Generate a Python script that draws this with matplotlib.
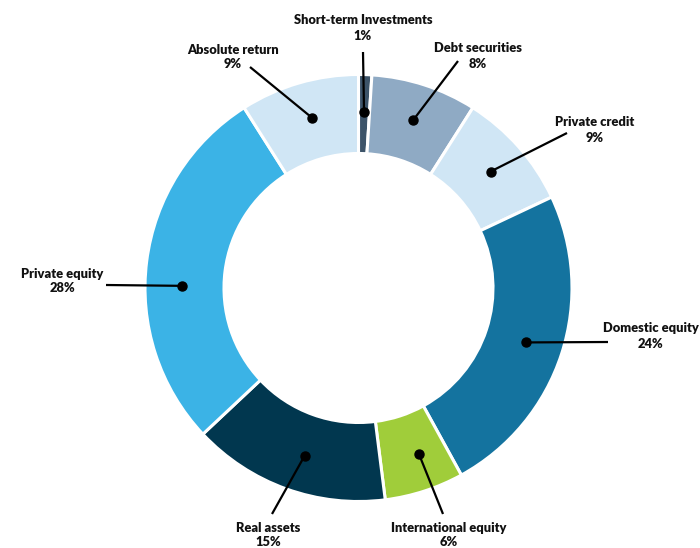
import numpy as np
import matplotlib.pyplot as plt

plt.rcParams['font.family'] = ['Lato', 'DejaVu Sans']

labels = ["Short-term Investments", "Debt securities", "Private credit",
          "Domestic equity", "International equity", "Real assets",
          "Private equity", "Absolute return"]
values = [1, 8, 9, 24, 6, 15, 28, 9]
colors = ["#3d5469", "#8faac4", "#d0e6f5", "#14739f", "#a0cd3a",
          "#01374f", "#3bb3e6", "#d0e6f5"]

# layout in pixels of the 700x548 picture: text centre, line end
cx, cy, scale = 358.5, 288.0, 213.5
text_px = [(363, 28), (478, 56), (595, 130), (651, 336),
           (449, 535), (268, 535), (62, 281), (233, 57)]
end_px = [(363, 52), (458, 61), (567, 133), (608, 342),
          (443, 514), (272, 514), (106, 285), (250, 67)]
dot_shift = [0, 0, 0, 0, 2, 2, 6.5, -1]   # degrees, nudges of the dots


def px(x, y):
    return ((x - cx) / scale, (cy - y) / scale)


fig = plt.figure(figsize=(7, 5.48), dpi=100)
ax = fig.add_axes([0, 0, 1, 1])

wedges, _ = ax.pie(values, colors=colors, startangle=90, counterclock=False,
                   radius=1.0,
                   wedgeprops=dict(width=0.37, edgecolor="white", linewidth=2.2))

for w, lab, v, tp, ep, sh in zip(wedges, labels, values, text_px, end_px, dot_shift):
    ang = np.deg2rad((w.theta1 + w.theta2) / 2 + sh)
    r = 0.825
    dx, dy = r * np.cos(ang), r * np.sin(ang)
    ex, ey = px(*ep)
    ax.plot([dx, ex], [dy, ey], color="black", lw=1.6, solid_capstyle="butt")
    ax.plot(dx, dy, "o", color="black", ms=6.5)
    tx, ty = px(*tp)
    ax.text(tx, ty, f"{lab}\n{v}%", ha="center", va="center",
            fontsize=9.3, fontweight="heavy", linespacing=1.3, color="#111111")

ax.set_xlim(-cx / scale, (700 - cx) / scale)
ax.set_ylim(-(548 - cy) / scale, cy / scale)
ax.set_aspect("equal")
ax.axis("off")

fig.savefig("out.png", dpi=100)
